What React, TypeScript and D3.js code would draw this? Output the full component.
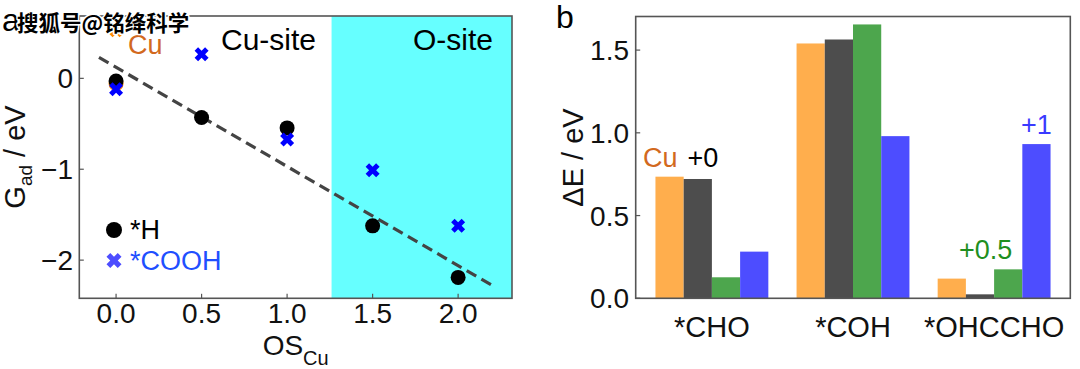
import React from "react";
import * as d3 from "d3";

// ---------- Panel a data ----------
const osValues = [0, 0.5, 1.0, 1.5, 2.0];
const hValues = [-0.03, -0.43, -0.545, -1.623, -2.19];
const coohValues = [-0.12, 0.264, -0.672, -1.01, -1.623];
const cuH = { x: 0, y: -0.06 };
const cuCOOH = { x: 0, y: 0.53 };
const fitLine = [
  { x: -0.1, y: 0.23 },
  { x: 2.2, y: -2.278 },
];
const oSiteStart = 1.26;
const aXTicks = [0, 0.5, 1.0, 1.5, 2.0];
const aXTickLabels = ["0.0", "0.5", "1.0", "1.5", "2.0"];
const aYTicks = [0, -1, -2];
const aYTickLabels = ["0", "\u22121", "\u22122"];

// ---------- Panel b data ----------
const adsorbates = ["*CHO", "*COH", "*OHCCHO"];
const surfaces = ["Cu", "+0", "+0.5", "+1"];
const cuBars = [0.735, 1.54, 0.119];
const zeroBars = [0.721, 1.564, 0.024];
const halfBars = [0.127, 1.655, 0.175];
const oneBars = [0.282, 0.98, 0.932];
const bYTicks = [0, 0.5, 1.0, 1.5];
const bYTickLabels = ["0.0", "0.5", "1.0", "1.5"];

const barColors = ["#FFAE4D", "#4D4D4D", "#4DA64D", "#4D4DFF"];

const FONT = "'Liberation Sans', Arial, Helvetica, sans-serif";

function xMarkerPath(cx: number, cy: number, s: number) {
  const pts = [
    [-0.25, -0.5], [0, -0.25], [0.25, -0.5], [0.5, -0.25], [0.25, 0], [0.5, 0.25],
    [0.25, 0.5], [0, 0.25], [-0.25, 0.5], [-0.5, 0.25], [-0.25, 0], [-0.5, -0.25],
  ];
  return "M" + pts.map((p) => `${cx + p[0] * s},${cy + p[1] * s}`).join("L") + "Z";
}

export default function App() {
  // panel a scales
  const aLeft = 79.3, aRight = 512, aTop = 16, aBottom = 298.3;
  const xA = d3.scaleLinear().domain([-0.215, 2.315]).range([aLeft, aRight]);
  const yA = d3.scaleLinear().domain([-2.42, 0.686]).range([aBottom, aTop]);

  // panel b scales
  const bLeft = 635.7, bRight = 1070.3, bTop = 16.5, bBottom = 298.3;
  const xB = d3.scaleLinear().domain([-0.54, 2.54]).range([bLeft, bRight]);
  const yB = d3.scaleLinear().domain([0, 1.703]).range([bBottom, bTop]);
  const barSeries = [cuBars, zeroBars, halfBars, oneBars];
  const barW = 0.2;

  const line = d3
    .line<{ x: number; y: number }>()
    .x((d) => xA(d.x))
    .y((d) => yA(d.y));

  const frameColor = "#555";
  const tickFont = 28;

  return (
    <svg
      width={1080}
      height={369}
      style={{ position: "absolute", left: 0, top: 0, background: "#fff" }}
      fontFamily={FONT}
    >
      <rect x={0} y={0} width={1080} height={369} fill="#fff" />

      {/* ================= Panel a ================= */}
      <rect
        x={xA(oSiteStart)}
        y={aTop}
        width={aRight - xA(oSiteStart)}
        height={aBottom - aTop}
        fill="#66FFFF"
      />
      <text x={221} y={50} fontSize={30} fill="#000">Cu-site</text>
      <text x={413} y={50} fontSize={30} fill="#000">O-site</text>

      <path
        d={line(fitLine) || ""}
        fill="none"
        stroke="#444"
        strokeWidth={3.2}
        strokeDasharray="11,6"
      />

      {/* Cu (orange) markers */}
      <circle cx={xA(cuH.x)} cy={yA(cuH.y)} r={7.5} fill="#FF8C00" />
      <path d={xMarkerPath(xA(cuCOOH.x), yA(cuCOOH.y), 14)} fill="#FF8C00" />

      {/* *H circles */}
      {osValues.map((x, i) => (
        <circle key={"h" + i} cx={xA(x)} cy={yA(hValues[i])} r={7.5} fill="#000" />
      ))}
      {/* *COOH X markers */}
      {osValues.map((x, i) => (
        <path key={"c" + i} d={xMarkerPath(xA(x), yA(coohValues[i]), 14)} fill="#0000FF" />
      ))}

      <text x={128} y={54} fontSize={27} fill="#D2691E">Cu</text>

      {/* legend */}
      <circle cx={114} cy={230} r={8} fill="#000" />
      <text x={130} y={238.5} fontSize={27} fill="#000">*H</text>
      <path d={xMarkerPath(114, 260.5, 15)} fill="#4D4DFF" />
      <text x={130} y={269.5} fontSize={27} fill="#1F4FFF">*COOH</text>

      {/* frame + ticks */}
      <rect
        x={aLeft}
        y={aTop}
        width={aRight - aLeft}
        height={aBottom - aTop}
        fill="none"
        stroke={frameColor}
        strokeWidth={1.6}
      />
      {aXTicks.map((t, i) => (
        <g key={"ax" + i}>
          <line x1={xA(t)} x2={xA(t)} y1={aBottom} y2={aBottom - 4.5} stroke={frameColor} strokeWidth={1.2} />
          <text x={xA(t)} y={323} fontSize={tickFont} textAnchor="middle" fill="#111">
            {aXTickLabels[i]}
          </text>
        </g>
      ))}
      {aYTicks.map((t, i) => (
        <g key={"ay" + i}>
          <line x1={aLeft} x2={aLeft + 4.5} y1={yA(t)} y2={yA(t)} stroke={frameColor} strokeWidth={1.2} />
          <text x={73} y={yA(t)} dy="0.36em" fontSize={tickFont} textAnchor="end" fill="#111">
            {aYTickLabels[i]}
          </text>
        </g>
      ))}
      <text x={(aLeft + aRight) / 2} y={355} fontSize={28} textAnchor="middle" fill="#111">
        <tspan>OS</tspan>
        <tspan fontSize={20} dy={10}>Cu</tspan>
      </text>
      <text transform={`translate(25,${157}) rotate(-90)`} fontSize={29} textAnchor="middle" fill="#111">
        <tspan>G</tspan>
        <tspan fontSize={19} dy={7}>ad</tspan>
        <tspan dy={-7}> / eV</tspan>
      </text>

      {/* ================= Panel b ================= */}
      {barSeries.map((series, s) =>
        series.map((v, g) => (
          <rect
            key={`b${s}-${g}`}
            x={xB(g - 0.4 + s * barW)}
            y={yB(v)}
            width={xB(barW) - xB(0)}
            height={yB(0) - yB(v)}
            fill={barColors[s]}
          />
        ))
      )}
      <text x={643} y={167} fontSize={27} fill="#D2691E">{surfaces[0]}</text>
      <text x={687.5} y={167} fontSize={27} fill="#000">{surfaces[1]}</text>
      <text x={959} y={259} fontSize={27} fill="#1F8F1F">{surfaces[2]}</text>
      <text x={1021} y={134} fontSize={27} fill="#3A3AFF">{surfaces[3]}</text>

      <rect
        x={bLeft}
        y={bTop}
        width={bRight - bLeft}
        height={bBottom - bTop}
        fill="none"
        stroke={frameColor}
        strokeWidth={1.6}
      />
      {bYTicks.map((t, i) => (
        <g key={"by" + i}>
          <line x1={bLeft} x2={bLeft + 4.5} y1={yB(t)} y2={yB(t)} stroke={frameColor} strokeWidth={1.2} />
          <text x={629} y={yB(t)} dy="0.36em" fontSize={tickFont} textAnchor="end" fill="#111">
            {bYTickLabels[i]}
          </text>
        </g>
      ))}
      {adsorbates.map((a, i) => (
        <text key={"cat" + i} x={xB(i)} y={337} fontSize={29} textAnchor="middle" fill="#111">
          {a}
        </text>
      ))}
      <text transform={`translate(583,${157.5}) rotate(-90)`} fontSize={29} textAnchor="middle" fill="#111">
        ΔE / eV
      </text>

      {/* panel labels & watermark */}
      <text x={556} y={28} fontSize={32} fill="#000">b</text>
      <text x={2} y={31} fontSize={32} fill="#000">a</text>
      <text
        x={17}
        y={30.5}
        fontSize={21.5}
        fontWeight="bold"
        fontFamily="'Noto Sans CJK SC', sans-serif"
        fill="#000"
        stroke="#fff"
        strokeWidth={3}
        paintOrder="stroke"
        strokeLinejoin="round"
      >
        搜狐号@铭绛科学
      </text>
    </svg>
  );
}
